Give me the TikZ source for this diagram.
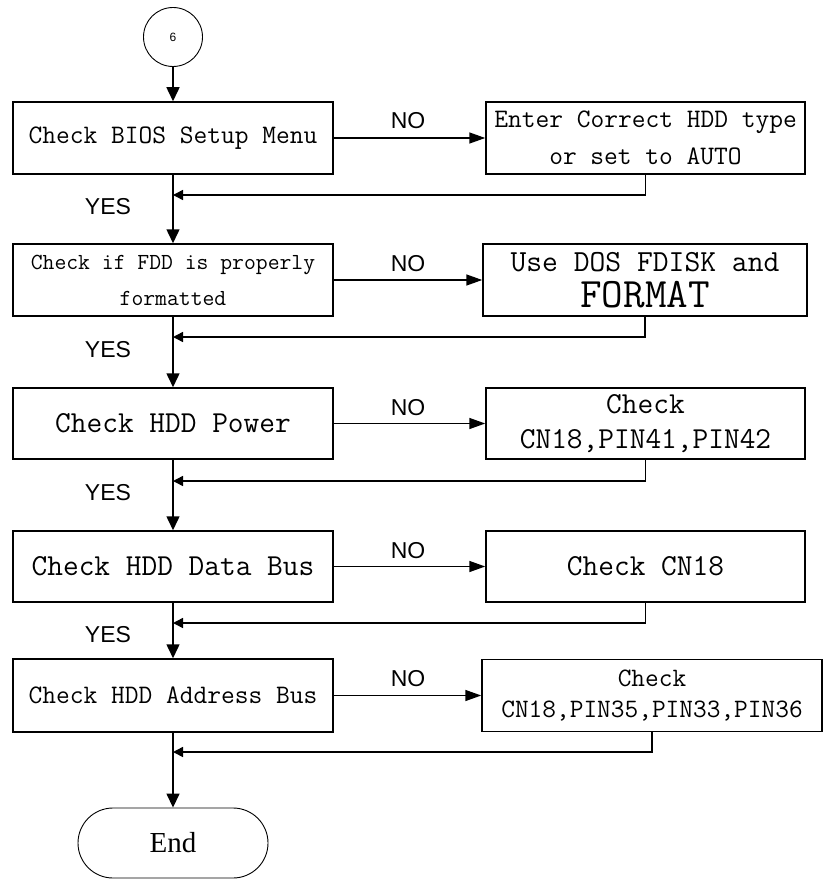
\documentclass[tikz,border=0pt]{standalone}
\usepackage{fontspec}
\setmainfont{Liberation Serif}
\newfontfamily\sansf{Liberation Sans}
\usetikzlibrary{arrows.meta}
\newcommand{\fsz}[2]{\fontsize{#1}{#2}\selectfont}
\newcommand{\monof}{\ttfamily}
\begin{document}
\begin{tikzpicture}[x=1pt,y=-1pt,
  box/.style={draw,line width=1.5pt,minimum width=320pt,minimum height=72pt,align=center,inner sep=0pt},
  rbox/.style={box,minimum width=319pt},
  main/.style={line width=1.5pt,-{Triangle[length=14pt,width=13pt]}},
  side/.style={line width=1.5pt,-{Triangle[length=16pt,width=11pt]}},
  ret/.style={line width=1.5pt,-{Triangle[length=10pt,width=10pt]}},
  lbl/.style={font=\sansf\fsz{23}{26},inner sep=0pt},
  term/.style={draw,line width=0.9pt,rounded corners=35pt,minimum width=190pt,minimum height=70pt,inner sep=0pt,font=\fsz{29}{32}},
  conn/.style={draw,circle,line width=0.9pt,minimum size=59pt,inner sep=0pt,font=\sansf\fsz{12}{14}}
]
\useasboundingbox (0,0) rectangle (824,880);

% connector
\node[conn] (c6) at (173,37) {6};

% left column
\node[box,font={\monof\fsz{26.7}{37}}] (b1) at (173,138) {Check BIOS Setup Menu};
\node[box,font={\monof\fsz{23}{36}}] (b2) at (173,280) {Check if FDD is properly\\formatted};
\node[box,minimum height=71pt,font={\monof\fsz{30.5}{30}}] (b3) at (173,423.5) {Check HDD Power};
\node[box,minimum height=71pt,font={\monof\fsz{30.5}{30}}] (b4) at (173,566.5) {Check HDD Data Bus};
\node[box,minimum height=73pt,font={\monof\fsz{26.7}{30}}] (b5) at (173,695.5) {Check HDD Address Bus};

% right column
\node[rbox,font={\monof\fsz{26.7}{37}}] (r1) at (645.5,138) {Enter Correct HDD type\\or set to AUTO};
\node[rbox,minimum width=324pt,font={\monof\fsz{30.7}{36}}] (r2) at (645,280) {Use DOS FDISK and\\{\fsz{41.9}{36}FORMAT}};
\node[rbox,minimum height=71pt,font={\monof\fsz{30.5}{35}}] (r3) at (645.5,423.5) {Check\\CN18,PIN41,PIN42};
\node[rbox,minimum height=71pt,font={\monof\fsz{30.5}{30}}] (r4) at (645.5,566.5) {Check CN18};
\node[rbox,minimum width=340pt,minimum height=72pt,font={\monof\fsz{26.6}{31}}] (r5) at (652,695.5) {Check\\CN18,PIN35,PIN33,PIN36};

% terminal
\node[term] (end) at (173,843) {End};

% main flow
\draw[main] (c6) -- (b1);
\draw[main] (b1) -- (b2);
\draw[main] (b2) -- (b3);
\draw[main] (b3) -- (b4);
\draw[main] (b4) -- (b5);
\draw[main] (b5) -- (end);

% NO branches
\draw[side] (b1) -- (r1);
\draw[side] (b2) -- (r2);
\draw[side] (b3) -- (r3);
\draw[side] (b4) -- (r4);
\draw[side] (b5) -- (r5);

% returns
\coordinate (j1) at (173,195);
\coordinate (j2) at (173,337);
\coordinate (j3) at (173,481);
\coordinate (j4) at (173,623);
\coordinate (j5) at (173,752);
\draw[ret] (r1.south) |- (j1);
\draw[ret] (r2.south) |- (j2);
\draw[ret] (r3.south) |- (j3);
\draw[ret] (r4.south) |- (j4);
\draw[ret] (r5.south) |- (j5);

% labels
\node[lbl] (no1) at (408,121) {NO};
\node[lbl] (no2) at (408,264) {NO};
\node[lbl] (no3) at (408,408) {NO};
\node[lbl] (no4) at (408,551) {NO};
\node[lbl] (no5) at (408,679) {NO};
\node[lbl] (yes1) at (108,207) {YES};
\node[lbl] (yes2) at (108,350) {YES};
\node[lbl] (yes3) at (108,493) {YES};
\node[lbl] (yes4) at (108,635) {YES};
\end{tikzpicture}
\end{document}
